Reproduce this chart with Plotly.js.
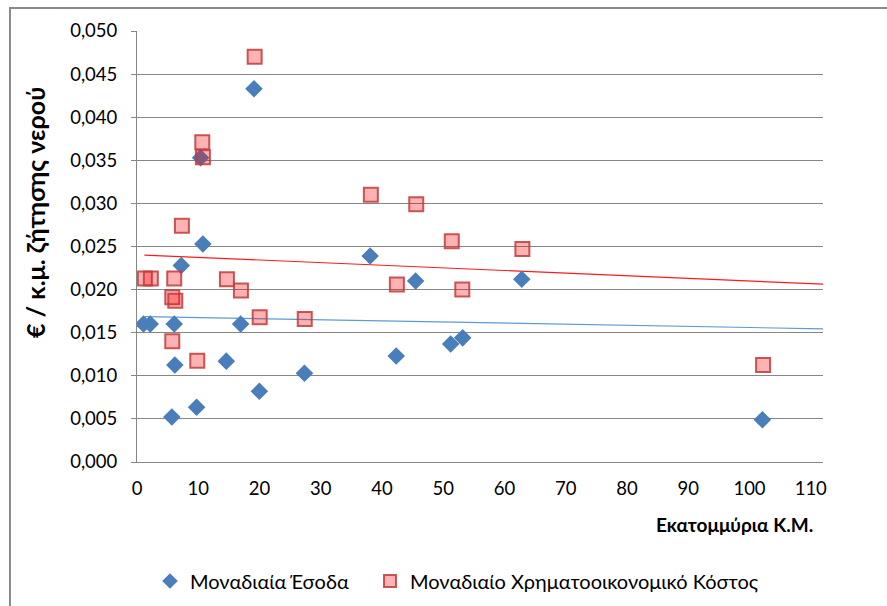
<!DOCTYPE html>
<html>
<head>
<meta charset="utf-8">
<script src="https://cdn.plot.ly/plotly-3.0.1.min.js"></script>
<style>
  html, body { margin: 0; padding: 0; background: #ffffff; }
  #chart { width: 887px; height: 606px; }
</style>
</head>
<body>
<div id="chart"></div>
<script>
// Series 1: Μοναδιαία Έσοδα (diamonds)
const revenueX = [1.06, 2.16, 6.08, 6.18, 5.69, 7.23, 9.73, 10.76, 10.38, 14.58, 16.92, 19.10, 19.98, 27.34, 38.06, 42.32, 45.49, 51.21, 53.17, 62.82, 102.11];
const revenueY = [0.0160, 0.0160, 0.0160, 0.01125, 0.00522, 0.0228, 0.00635, 0.0253, 0.0353, 0.0117, 0.0160, 0.0433, 0.0082, 0.0103, 0.0239, 0.0123, 0.0210, 0.0137, 0.0144, 0.0212, 0.0049];

// Series 2: Μοναδιαίο Χρηματοοικονομικό Κόστος (squares)
const costX = [1.28, 2.26, 6.08, 5.76, 6.25, 5.76, 7.33, 9.84, 10.66, 10.76, 14.68, 16.97, 19.21, 20.03, 27.39, 38.18, 42.43, 45.59, 51.39, 53.11, 62.92, 102.22];
const costY = [0.0213, 0.0213, 0.0213, 0.0191, 0.0187, 0.0140, 0.0274, 0.01175, 0.0371, 0.03535, 0.0212, 0.0199, 0.0470, 0.0168, 0.0166, 0.0310, 0.0206, 0.0299, 0.0256, 0.0200, 0.0247, 0.01125];

// Linear trendlines (end points)
const trendX = [1.2, 112];
const revenueTrendY = [0.01686, 0.01545];
const costTrendY = [0.02401, 0.02063];

const seriesNames = ['Μοναδιαία Έσοδα', 'Μοναδιαίο Χρηματοοικονομικό Κόστος'];
const yTitle = '€ / κ.μ. ζήτησης νερού';
const xTitle = 'Εκατομμύρια Κ.Μ.';

const FONT = 'Lato, "Open Sans", sans-serif';

const traces = [
  {
    x: trendX, y: revenueTrendY, type: 'scatter', mode: 'lines',
    line: { color: '#5B9BD5', width: 1.2 }, showlegend: false, hoverinfo: 'skip'
  },
  {
    x: trendX, y: costTrendY, type: 'scatter', mode: 'lines',
    line: { color: '#FF1A1A', width: 1.2 }, showlegend: false, hoverinfo: 'skip'
  },
  {
    x: revenueX, y: revenueY, type: 'scatter', mode: 'markers', name: seriesNames[0],
    legend: 'legend',
    marker: { symbol: 'diamond', size: 13.5, color: '#4A7EBB', line: { width: 0 } }
  },
  {
    x: costX, y: costY, type: 'scatter', mode: 'markers', name: seriesNames[1],
    legend: 'legend2',
    marker: { symbol: 'square', size: 14, color: 'rgba(255,0,0,0.30)',
              line: { color: 'rgba(190,60,60,0.85)', width: 2 } }
  }
];

const L = 137, R = 64, T = 31, B = 144, W = 887, H = 606;
const pw = W - L - R, ph = H - T - B;
const px2x = p => (p - L) / pw;
const py2y = p => (H - B - p) / ph;

const legendBase = {
  orientation: 'h', xref: 'container', yref: 'container',
  xanchor: 'left', y: (H - 581) / H, yanchor: 'middle',
  font: { family: FONT, size: 20, color: '#000000' },
  bgcolor: 'rgba(0,0,0,0)', itemsizing: 'constant'
};

const layout = {
  width: W, height: H,
  margin: { l: L, r: R, t: T, b: B, autoexpand: false },
  paper_bgcolor: '#ffffff', plot_bgcolor: '#ffffff',
  separators: ',.',
  font: { family: FONT, size: 18, color: '#000000' },
  showlegend: true,
  legend: Object.assign({}, legendBase, { x: 150 / W }),
  legend2: Object.assign({}, legendBase, { x: 370 / W }),
  xaxis: {
    range: [0, 112], tick0: 0, dtick: 10, showgrid: false, zeroline: false,
    showline: true, linecolor: '#868686', linewidth: 1, ticks: '',
    tickfont: { family: FONT, size: 18.5, color: '#000' }, ticklabelstandoff: 10,
    fixedrange: true
  },
  yaxis: {
    range: [0, 0.05], tick0: 0, dtick: 0.005, tickformat: '.3f',
    showgrid: true, gridcolor: '#868686', gridwidth: 1, zeroline: false,
    showline: true, linecolor: '#868686', linewidth: 1,
    ticks: 'outside', ticklen: 5, tickcolor: '#868686',
    tickfont: { family: FONT, size: 18.5, color: '#000' }, ticklabelstandoff: 10,
    fixedrange: true
  },
  annotations: [
    {
      text: '<b>' + yTitle + '</b>', xref: 'paper', yref: 'paper',
      x: px2x(35), y: py2y(213), xanchor: 'center', yanchor: 'middle',
      textangle: -90, showarrow: false,
      font: { family: FONT, size: 25, color: '#000' }
    },
    {
      text: '<b>' + xTitle + '</b>', xref: 'paper', yref: 'paper',
      x: px2x(815), y: py2y(524), xanchor: 'right', yanchor: 'middle',
      showarrow: false, font: { family: FONT, size: 19, color: '#000' }
    }
  ],
  shapes: [
    {
      type: 'rect', xref: 'paper', yref: 'paper',
      x0: px2x(10), x1: px2x(1000), y0: py2y(800), y1: py2y(8),
      line: { color: '#8a8a8a', width: 2 }, fillcolor: 'rgba(0,0,0,0)', layer: 'below'
    }
  ]
};

Plotly.newPlot('chart', traces, layout, { staticPlot: true, displayModeBar: false });
</script>
</body>
</html>
